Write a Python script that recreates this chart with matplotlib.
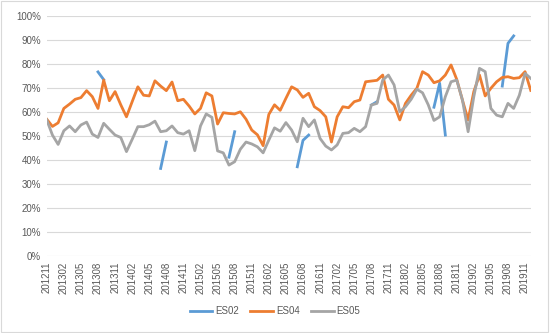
import numpy as np
import matplotlib
matplotlib.use("Agg")
import matplotlib.pyplot as plt
from matplotlib.patches import Rectangle

nan = np.nan

# monthly categories 201211 .. 201912
months = [f"{y}{m:02d}" for y in range(2012, 2020) for m in range(1, 13)]
months = months[months.index("201211"):months.index("201912") + 1]

es02 = [nan] * len(months)
for k, v in {9: 76.7, 10: 73.5, 20: 36.5, 21: 47.5, 32: 41.2, 33: 51.8,
             44: 37.2, 45: 48.2, 46: 50.4, 57: 62.9, 58: 64.3,
             68: 62.0, 69: 72.0, 70: 50.4, 80: 70.8, 81: 88.6, 82: 91.7}.items():
    es02[k] = v

es04 = [57, 54, 55.5, 61.5, 63.3, 65.3, 66, 68.9, 66.4, 61.5,
        73.3, 64.7, 68.5, 63, 58, 64.3, 70.5, 67, 66.7, 73,
        70.8, 68.9, 72.5, 64.7, 65.3, 62.5, 59.2, 61.5, 68, 66.7,
        55, 59.7, 59.4, 59.2, 60.1, 57, 52.5, 50.5, 46, 59,
        63, 60.7, 65.7, 70.5, 69.2, 66.1, 67.8, 62.2, 60.6, 58,
        47.5, 58, 62.2, 61.8, 64.3, 65, 72.6, 72.9, 73.2, 75.4,
        65.3, 62.9, 56.7, 63.6, 67, 69.9, 76.8, 75.4, 72.2, 73,
        75.4, 79.6, 73.6, 65, 56.7, 68.5, 75.4, 66.7, 69.9, 72.6,
        74.4, 74.7, 74, 74.3, 76.8, 69]

es05 = [56.7, 50.4, 46.5, 52.2, 54.2, 51.8, 54.6, 55.8, 50.8, 49.4,
        55.3, 52.8, 50.4, 49.4, 43.5, 48.6, 53.9, 53.9, 54.7, 56.2,
        51.8, 52.2, 54.2, 51.4, 50.8, 52.2, 43.9, 54.2, 59.2, 57.8,
        43.8, 43, 37.9, 39.3, 44.5, 47.5, 46.7, 45.5, 43, 48.3,
        53.4, 52, 55.6, 52.5, 47.6, 57.4, 53.9, 56.7, 49, 45.8,
        44.2, 46.3, 51.1, 51.4, 53.2, 51.8, 53.9, 62.9, 63.6, 73.3,
        75.4, 71.3, 60.1, 62.2, 65.3, 69.5, 68, 63, 56.5, 58,
        66.4, 72.6, 73.3, 65, 51.8, 66.4, 78.2, 76.8, 61.5, 58.7,
        58, 63.6, 61.5, 67, 76.1, 74]

plt.rcParams["font.family"] = ["Liberation Sans", "DejaVu Sans"]

fig = plt.figure(figsize=(5.5, 3.33), dpi=100)
ax = fig.add_axes([0.085, 0.231, 0.88, 0.721])

x = np.arange(len(months))
ax.plot(x, es02, color="#5B9BD5", linewidth=2, label="ES02")
ax.plot(x, es04, color="#ED7D31", linewidth=2, label="ES04")
ax.plot(x, es05, color="#A5A5A5", linewidth=2, label="ES05")

ax.set_xlim(0, len(months) - 1)
ax.set_ylim(0, 100)
ax.set_yticks(np.arange(0, 101, 10))
ax.set_yticklabels([f"{v}%" for v in range(0, 101, 10)])
ax.set_xticks(x[::3])
ax.set_xticklabels(months[::3], rotation=90)
ax.tick_params(length=0, labelsize=7, colors="#595959", pad=4)
ax.grid(axis="y", color="#D9D9D9", linewidth=0.8)
ax.set_axisbelow(True)
for s in ax.spines.values():
    s.set_visible(False)

fig.legend(loc="lower center", bbox_to_anchor=(0.5, 0.025), ncol=3, frameon=False,
           fontsize=7, handlelength=2.3, handletextpad=0.3, columnspacing=1.2,
           labelcolor="#595959")

fig.patches.append(Rectangle((0.002, 0.003), 0.995, 0.994, transform=fig.transFigure,
                             fill=False, edgecolor="#D9D9D9", linewidth=0.8))

fig.savefig("out.png", dpi=100)
